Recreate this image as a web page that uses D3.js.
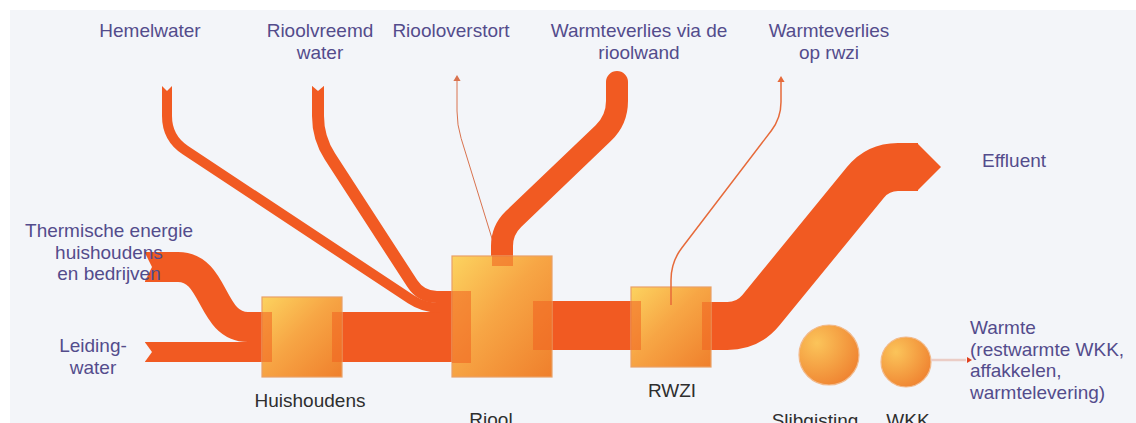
<!DOCTYPE html>
<html>
<head>
<meta charset="utf-8">
<script src="https://cdn.jsdelivr.net/npm/d3@7"></script>
<style>
  html, body { margin: 0; padding: 0; background: #ffffff; }
  svg { display: block; }
  text { font-family: "Liberation Sans", Arial, sans-serif; }
</style>
</head>
<body>
<svg id="chart" width="1136" height="423"></svg>
<script>
// ---------------- DATA ----------------
// Flow names and (estimated) relative magnitudes read from band thickness
const flowNames  = ["Thermische energie", "Leidingwater", "Huishoudens → Riool", "Hemelwater",
                    "Rioolvreemd water", "Riooloverstort", "Warmteverlies via de rioolwand",
                    "Riool → RWZI", "Warmteverlies op rwzi", "Effluent", "Warmte"];
const flowValues = [30, 20, 50, 10, 12, 1, 22, 49, 1.5, 48, 2.5];

// Node (process) names
const nodeNames  = ["Huishoudens", "Riool", "RWZI", "Slibgisting", "WKK"];

// Source / sink labels
const topLabels  = [["Hemelwater"], ["Rioolvreemd", "water"], ["Riooloverstort"],
                    ["Warmteverlies via de", "rioolwand"], ["Warmteverlies", "op rwzi"]];
const leftLabels = [["Thermische energie", "huishoudens", "en bedrijven"], ["Leiding-", "water"]];
const rightLabels = [["Effluent"], ["Warmte", "(restwarmte WKK,", "affakkelen,", "warmtelevering)"]];

// ---------------- STYLE / LAYOUT ----------------
const W = 1136, H = 423;
const bandColor = "#f15a22";
const labelColor = "#534c8c";
const nodeLabelColor = "#2e2e2e";
const bgPanel = "#f3f5f9";

const svg = d3.select("#chart");
const widthScale = d3.scaleLinear().domain([0, 50]).range([0, 50]);
const v = name => flowValues[flowNames.indexOf(name)];

// defs: gradients
const defs = svg.append("defs");
const g1 = defs.append("linearGradient").attr("id", "boxGrad")
  .attr("x1", "0").attr("y1", "0").attr("x2", "1").attr("y2", "1");
g1.append("stop").attr("offset", "0%").attr("stop-color", "#fcd35f");
g1.append("stop").attr("offset", "45%").attr("stop-color", "#f7a645");
g1.append("stop").attr("offset", "100%").attr("stop-color", "#ef7f2c");
const g2 = defs.append("radialGradient").attr("id", "circGrad")
  .attr("cx", "0.3").attr("cy", "0.3").attr("r", "0.8");
g2.append("stop").attr("offset", "0%").attr("stop-color", "#fbc45a");
g2.append("stop").attr("offset", "100%").attr("stop-color", "#ef8230");

// background panel
svg.append("rect").attr("x", 0).attr("y", 0).attr("width", W).attr("height", H).attr("fill", "#ffffff");
svg.append("rect").attr("x", 10).attr("y", 10).attr("width", W - 10).attr("height", H - 10).attr("fill", bgPanel);

// helper: polyline with rounded corners
function roundedPath(pts, radii) {
  const p = d3.path();
  p.moveTo(pts[0][0], pts[0][1]);
  for (let i = 1; i < pts.length - 1; i++) {
    const [x0, y0] = pts[i - 1], [x1, y1] = pts[i], [x2, y2] = pts[i + 1];
    const l1 = Math.hypot(x1 - x0, y1 - y0), l2 = Math.hypot(x2 - x1, y2 - y1);
    const r = Math.min(Array.isArray(radii) ? radii[i - 1] : radii, l1 / 2, l2 / 2);
    const ax = x1 - (x1 - x0) / l1 * r, ay = y1 - (y1 - y0) / l1 * r;
    const bx = x1 + (x2 - x1) / l2 * r, by = y1 + (y2 - y1) / l2 * r;
    p.lineTo(ax, ay);
    p.quadraticCurveTo(x1, y1, bx, by);
  }
  const last = pts[pts.length - 1];
  p.lineTo(last[0], last[1]);
  return p.toString();
}

const gThin = svg.append("g");
const gBands = svg.append("g");
const gNodes = svg.append("g");
const gStubs = svg.append("g");
const gTop = svg.append("g");
const gText = svg.append("g");

function band(g, d, name, opts = {}) {
  return g.append("path").attr("d", d)
    .attr("fill", "none").attr("stroke", opts.color || bandColor)
    .attr("stroke-width", widthScale(v(name)))
    .attr("stroke-linecap", opts.cap || "butt")
    .attr("stroke-linejoin", "round")
    .attr("opacity", opts.opacity == null ? 1 : opts.opacity);
}
function arrowHead(g, x, y, dir, size, color) {
  // dir: "up" or "right"
  let pts;
  if (dir === "up") pts = [[x - size * 0.6, y + size], [x, y], [x + size * 0.6, y + size]];
  else pts = [[x - size, y - size * 0.6], [x, y], [x - size, y + size * 0.6]];
  g.append("path").attr("d", d3.line()(pts) + "Z").attr("fill", color);
}
function notch(g, pts) {
  g.append("path").attr("d", d3.line()(pts) + "Z").attr("fill", bgPanel);
}

// ---------- thin lines under the bands ----------
band(gThin, roundedPath([[457, 80], [457, 125], [494, 245]], 14), "Riooloverstort",
     { color: "#d9734f" });
arrowHead(gThin, 457, 75, "up", 6, "#d9734f");

// ---------- bands ----------
// Thermische energie (S-curve into Huishoudens)
(function () {
  const p = d3.path();
  p.moveTo(145, 267); p.lineTo(178, 267);
  p.bezierCurveTo(216, 267, 210, 327, 248, 327);
  p.lineTo(268, 327);
  band(gBands, p.toString(), "Thermische energie");
  notch(gBands, [[144, 251], [144, 283], [152, 267]]);
})();
// Leidingwater
band(gBands, roundedPath([[145, 352], [268, 352]], 0), "Leidingwater");
notch(gBands, [[144, 341], [144, 363], [152, 352]]);
// Huishoudens -> Riool
band(gBands, roundedPath([[338, 337], [456, 337]], 0), "Huishoudens → Riool");
// Hemelwater
band(gBands, roundedPath([[167, 86], [167, 138], [424, 308], [456, 308]], [22, 18]), "Hemelwater");
notch(gBands, [[161, 85], [173, 85], [167, 91]]);
// Rioolvreemd water
band(gBands, roundedPath([[318, 86], [318, 138], [421, 297], [456, 297]], [22, 16]), "Rioolvreemd water");
notch(gBands, [[311, 85], [325, 85], [318, 91]]);
// Warmteverlies via de rioolwand
band(gBands, roundedPath([[502, 262], [502, 230], [617, 120], [617, 82]], [20, 22]),
     "Warmteverlies via de rioolwand", { cap: "round" });
// Riool -> RWZI
band(gBands, roundedPath([[548, 325.5], [635, 325.5]], 0), "Riool → RWZI");
// Effluent
band(gBands, roundedPath([[707, 326], [748, 326], [878, 167], [918, 167]], [34, 22]), "Effluent");
gBands.append("path").attr("d", d3.line()([[917, 143], [941, 167], [917, 191]]) + "Z").attr("fill", bandColor);

// ---------- nodes ----------
const boxes = [
  { name: nodeNames[0], x: 262, y: 297, w: 80, h: 80 },
  { name: nodeNames[1], x: 452, y: 256, w: 100, h: 121 },
  { name: nodeNames[2], x: 631, y: 287, w: 80, h: 80 }
];
gNodes.selectAll("rect.node").data(boxes).join("rect").attr("class", "node")
  .attr("x", d => d.x).attr("y", d => d.y).attr("width", d => d.w).attr("height", d => d.h)
  .attr("fill", "url(#boxGrad)").attr("stroke", "#e9a066").attr("stroke-width", 1.2);

const circles = [
  { name: nodeNames[3], cx: 829, cy: 355, r: 30 },
  { name: nodeNames[4], cx: 906, cy: 362, r: 25 }
];
gNodes.selectAll("circle.node").data(circles).join("circle").attr("class", "node")
  .attr("cx", d => d.cx).attr("cy", d => d.cy).attr("r", d => d.r)
  .attr("fill", "url(#circGrad)").attr("stroke", "#f2b98a").attr("stroke-width", 1.2);

// stubs: bands visible through the boxes
const stubs = [
  [262, 312, 10, 50], [332, 312, 10, 50],
  [452, 291, 19, 72], [533, 301, 19, 49], [492, 256, 21, 10],
  [631, 301, 10, 49], [702, 302, 9, 48]
];
gStubs.selectAll("rect").data(stubs).join("rect")
  .attr("x", d => d[0]).attr("y", d => d[1]).attr("width", d => d[2]).attr("height", d => d[3])
  .attr("fill", "#f1601f").attr("opacity", 0.55);

// ---------- thin lines on top ----------
band(gTop, roundedPath([[671, 305], [671, 262], [781, 118], [781, 82]], [18, 16]), "Warmteverlies op rwzi",
     { color: "#e66a3a" });
arrowHead(gTop, 781, 76, "up", 6, "#e66a3a");
band(gTop, roundedPath([[931, 360], [966, 360]], 0), "Warmte", { color: "#ebcdc6" });
arrowHead(gTop, 972, 360, "right", 5, "#e0401e");

// ---------- text ----------
const fs = 19, lh = 21.5;
function multiText(g, lines, x, y, anchor, color) {
  const t = g.append("text").attr("x", x).attr("y", y).attr("text-anchor", anchor)
    .attr("fill", color).attr("font-size", fs);
  lines.forEach((s, i) => t.append("tspan").attr("x", x).attr("y", y + i * lh).text(s));
}
const topX = [150, 320, 451, 639, 829];
topLabels.forEach((l, i) => multiText(gText, l, topX[i], 37, "middle", labelColor));
multiText(gText, leftLabels[0], 109, 237, "middle", labelColor);
multiText(gText, leftLabels[1], 93, 352, "middle", labelColor);
multiText(gText, rightLabels[0], 1014, 167, "middle", labelColor);
multiText(gText, rightLabels[1], 970, 334, "start", labelColor);

const nodeLabelPos = [[310, 407], [491, 426], [672, 397], [815, 427], [908, 427]];
nodeNames.forEach((n, i) =>
  gText.append("text").attr("x", nodeLabelPos[i][0]).attr("y", nodeLabelPos[i][1])
    .attr("text-anchor", "middle").attr("fill", nodeLabelColor).attr("font-size", fs).text(n));
</script>
</body>
</html>
